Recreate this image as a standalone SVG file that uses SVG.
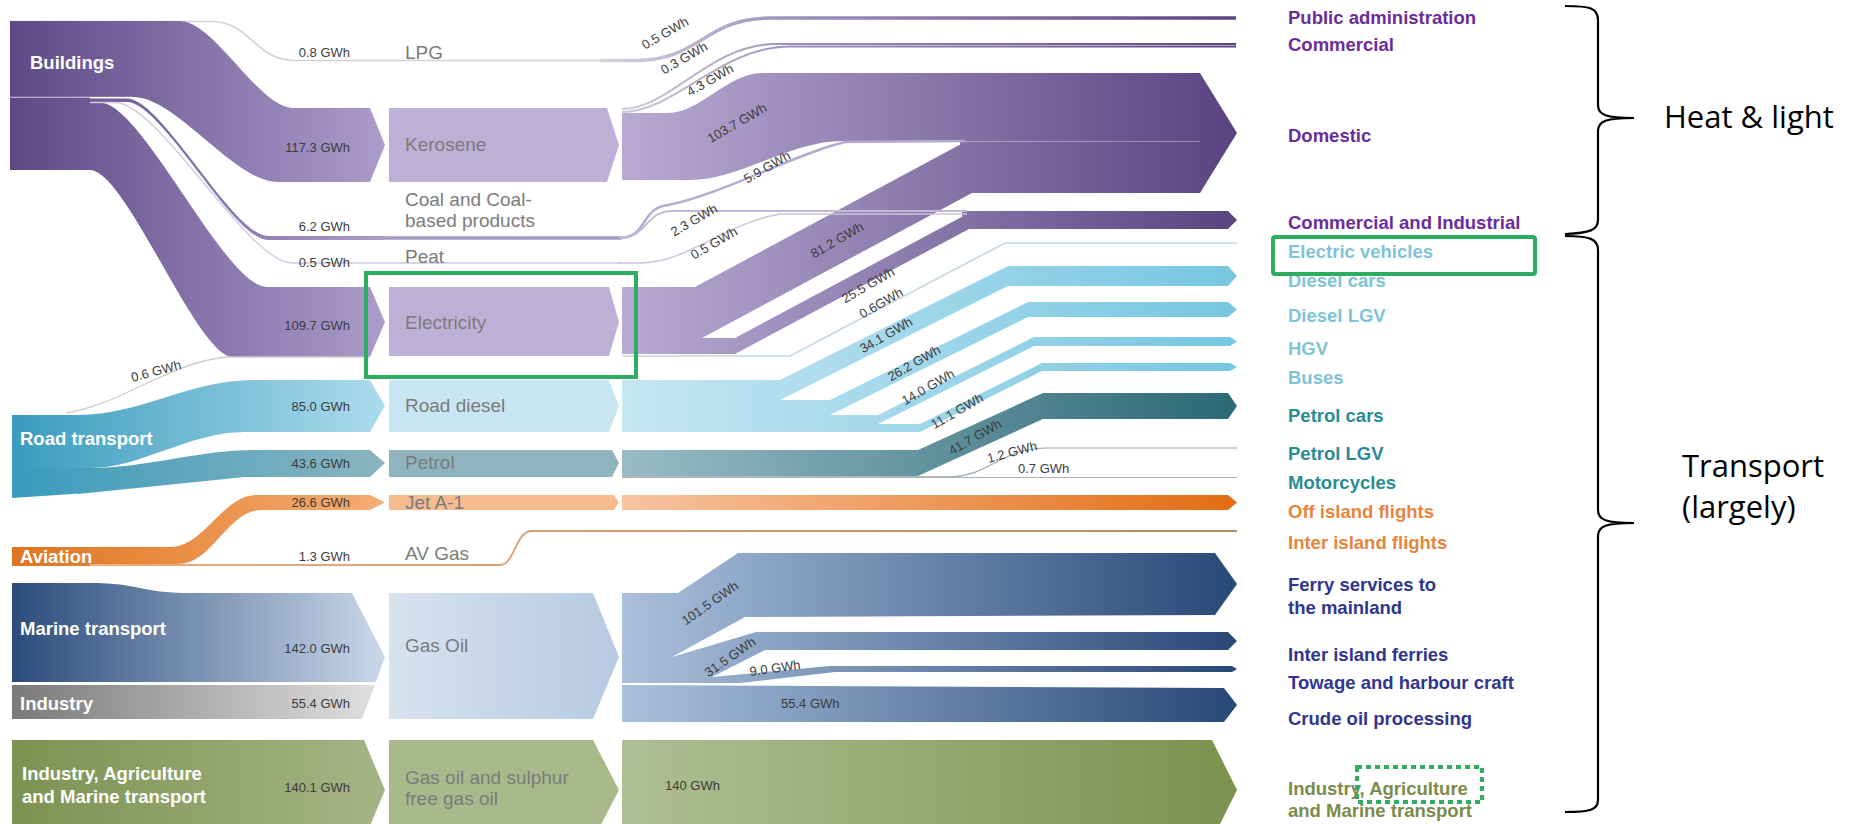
<svg xmlns="http://www.w3.org/2000/svg" width="1856" height="824" viewBox="0 0 1856 824">
<defs>
<linearGradient id="gBld" gradientUnits="userSpaceOnUse" x1="10" y1="0" x2="385" y2="0"><stop offset="0" stop-color="#5e4986"/><stop offset="1" stop-color="#ab9ccb"/></linearGradient>
<linearGradient id="gPur" gradientUnits="userSpaceOnUse" x1="622" y1="0" x2="1237" y2="0"><stop offset="0" stop-color="#b8aad3"/><stop offset="1" stop-color="#594480"/></linearGradient>
<linearGradient id="gPurLine" gradientUnits="userSpaceOnUse" x1="600" y1="0" x2="1237" y2="0"><stop offset="0" stop-color="#d6d2de"/><stop offset="0.3" stop-color="#9d90bd"/><stop offset="1" stop-color="#5a4680"/></linearGradient>
<linearGradient id="gRoad" gradientUnits="userSpaceOnUse" x1="12" y1="0" x2="385" y2="0"><stop offset="0" stop-color="#3a9bbd"/><stop offset="1" stop-color="#acdcec"/></linearGradient>
<linearGradient id="gPet" gradientUnits="userSpaceOnUse" x1="12" y1="0" x2="385" y2="0"><stop offset="0" stop-color="#3a9bbd"/><stop offset="1" stop-color="#8ab4c0"/></linearGradient>
<linearGradient id="gDsl" gradientUnits="userSpaceOnUse" x1="622" y1="0" x2="1237" y2="0"><stop offset="0" stop-color="#c6e6f2"/><stop offset="1" stop-color="#76c6e1"/></linearGradient>
<linearGradient id="gPetD" gradientUnits="userSpaceOnUse" x1="622" y1="0" x2="1237" y2="0"><stop offset="0" stop-color="#98bcc6"/><stop offset="1" stop-color="#2b6875"/></linearGradient>
<linearGradient id="gAv" gradientUnits="userSpaceOnUse" x1="12" y1="0" x2="385" y2="0"><stop offset="0" stop-color="#df7420"/><stop offset="1" stop-color="#f4ad72"/></linearGradient>
<linearGradient id="gJetD" gradientUnits="userSpaceOnUse" x1="622" y1="0" x2="1237" y2="0"><stop offset="0" stop-color="#f7c4a0"/><stop offset="1" stop-color="#e26c12"/></linearGradient>
<linearGradient id="gAvLine" gradientUnits="userSpaceOnUse" x1="12" y1="0" x2="1237" y2="0"><stop offset="0" stop-color="#f3b07a"/><stop offset="1" stop-color="#b08a62"/></linearGradient>
<linearGradient id="gMar" gradientUnits="userSpaceOnUse" x1="12" y1="0" x2="385" y2="0"><stop offset="0" stop-color="#2b4c7c"/><stop offset="1" stop-color="#cad8e9"/></linearGradient>
<linearGradient id="gInd" gradientUnits="userSpaceOnUse" x1="12" y1="0" x2="385" y2="0"><stop offset="0" stop-color="#7a7a7a"/><stop offset="1" stop-color="#e2e2e2"/></linearGradient>
<linearGradient id="gGasBox" gradientUnits="userSpaceOnUse" x1="389" y1="0" x2="619" y2="0"><stop offset="0" stop-color="#d7e2ef"/><stop offset="1" stop-color="#b6cae2"/></linearGradient>
<linearGradient id="gGasD" gradientUnits="userSpaceOnUse" x1="622" y1="0" x2="1237" y2="0"><stop offset="0" stop-color="#aac0dc"/><stop offset="1" stop-color="#284877"/></linearGradient>
<linearGradient id="gIam" gradientUnits="userSpaceOnUse" x1="12" y1="0" x2="385" y2="0"><stop offset="0" stop-color="#7c9251"/><stop offset="1" stop-color="#a6b485"/></linearGradient>
<linearGradient id="gIamD" gradientUnits="userSpaceOnUse" x1="622" y1="0" x2="1237" y2="0"><stop offset="0" stop-color="#b0be94"/><stop offset="1" stop-color="#7b914e"/></linearGradient>
</defs>
<style>
.src{font-family:"Liberation Sans",Arial,sans-serif;font-weight:bold;font-size:18.5px;fill:#ffffff;dominant-baseline:central}
.fuel{font-family:"Liberation Sans",Arial,sans-serif;font-size:19px;fill:#7b7b7b;dominant-baseline:central}
.v{font-family:"Liberation Sans",Arial,sans-serif;font-size:13px;fill:#3c3c3c;dominant-baseline:central}
.ve{text-anchor:end}
.vm{text-anchor:middle}
.out{font-family:"Liberation Sans",Arial,sans-serif;font-weight:bold;font-size:18.5px;dominant-baseline:central}
.op{fill:#6a2c9c}.ob{fill:#80c3d8}.ot{fill:#2a8c93}.oo{fill:#e8853c}.on{fill:#2f3590}.og{fill:#7b8b49}
.ann{font-family:"Open Sans","Noto Sans",sans-serif;font-size:31px;fill:#000000}
.brace{fill:none;stroke:#000000;stroke-width:2.2}
.hl{fill:none;stroke:#2eac5f;stroke-width:4}
.ln{fill:none}
</style>
<rect x="0" y="0" width="1856" height="824" fill="#ffffff"/>

<g id="connectors">
  <!-- Buildings flows -->
  <path class="ln" d="M10,21.5 L212,21.5 C250,21.5 255,60.5 295,60.5 L622,60.5" stroke="#d3d3d3" stroke-width="1.6"/>
  <path fill="url(#gBld)" d="M88,21 L180,21 C214,21 259,108 293,108 L370,108 L385,145 L370,182 L278,182 C234,182 177,97 133,97 L88,97 Z"/>
  <path fill="url(#gBld)" d="M88,98.5 L127,98.5 C162,98.5 233,236 268,236 L385,236 L385,240 L268,240 C233,240 162,102 127,102 L88,102 Z"/>
  <path fill="url(#gBld)" d="M88,102.5 L100,102.5 C142,102.5 225,287 267,287 L370,287 L385,322 L370,357 L233,357 C197,357 126,170 90,170 L88,170 Z"/>
  <path class="ln" d="M88,102.5 L115,102.5 C159,102.5 248,263 292,263 L622,263" stroke="#cfc8df" stroke-width="1.3"/>
  <path class="ln" d="M385,238 L622,238" stroke="#a598c4" stroke-width="3.5"/>
  <!-- Road transport flows -->
  <path class="ln" d="M66,413 C120,405 170,362 227,357 L370,357" stroke="#cccccc" stroke-width="1.3"/>
  <path fill="url(#gRoad)" d="M78,415 C140,415 190,380 253,380 L370,380 L385,406 L370,432 L245,432 C190,432 140,468 91,468 L78,468 Z"/>
  <path fill="url(#gPet)" d="M78,468 L91,468 C145,468 200,450 253,450 L370,450 L385,463 L370,477 L245,477 L78,494 Z"/>
  <!-- Aviation flows -->
  <path fill="url(#gAv)" d="M88,547 L170,547 C205,547 222,495 257,495 L370,495 L385,502.5 L370,510 L262,510 C227,510 213,564 178,564 L88,564 Z"/>
  <path class="ln" d="M88,565 L500,565 C515,565 515,531 532,531 L1237,531" stroke="url(#gAvLine)" stroke-width="1.8"/>
  <!-- Marine / Industry / IAM flows -->
  <path fill="url(#gMar)" d="M90,583 C140,583 140,593 190,593 L352,593 L385,657 L376,682 L90,682 Z"/>
  <path fill="url(#gInd)" d="M90,685 L375,685 L362,719 L90,719 Z"/>
  <path fill="url(#gIam)" d="M90,740 L364,740 L385,790 L364,840 L90,840 Z"/>

  <!-- Purple distribution -->
  <path class="ln" d="M600,60.5 L636,60.5 C700,60.5 705,18 770,18 L1236,18" stroke="url(#gPurLine)" stroke-width="3.5"/>
  <path class="ln" d="M622,109 C670,109 710,44 775,44 L1236,44" stroke="url(#gPurLine)" stroke-width="2"/>
  <path class="ln" d="M622,112 C675,112 720,46.5 790,46.5 L1236,46.5" stroke="url(#gPurLine)" stroke-width="2"/>
  <path fill="url(#gPur)" d="M622,113 L668,113 C700,113 728,73 762,73 L966,73 L966,141 L842,141 C790,141 740,180 690,180 L622,180 Z"/>
  <path fill="url(#gPur)" d="M960,73 L1200,73 L1237,133 L1200,193 L960,193 Z"/>
  <path fill="url(#gPur)" d="M622,287 L695,287 L963,143 L970,143 L970,193 L972,193 L702,338 L622,338 Z"/>
  <path class="ln" d="M842,141.5 L1200,141.5" stroke="#ffffff" stroke-opacity="0.35" stroke-width="1"/>
  <path fill="url(#gPur)" d="M622,338 L735,338 L969,213 L975,213 L975,229 L969,229 L735,354 L622,354 Z"/>
  <path fill="url(#gPur)" d="M962,211 L1228,211 L1237,220 L1228,229 L962,229 Z"/>
  <path class="ln" d="M619,238 C648,238 640,208 668,205 C720,195 800,152 845,142 L965,141" stroke="#b7aad2" stroke-width="2.5"/>
  <path class="ln" d="M619,238 C648,238 645,211 672,211 L967,211" stroke="#c2b8d8" stroke-width="1.8"/>
  <path class="ln" d="M619,263 L640,263 C690,262 720,225 780,214 L967,214" stroke="#cbc3dd" stroke-width="1.3"/>
  <path class="ln" d="M622,356 L790,356 L1005,243 L1237,243" stroke="#c2d8e2" stroke-width="1.6"/>

  <!-- Road diesel distribution -->
  <path fill="url(#gDsl)" d="M622,380 L780,380 L1008,266 L1228,266 L1237,276 L1228,286 L1008,286 L780,400 L622,400 Z"/>
  <path fill="url(#gDsl)" d="M622,400 L830,400 L1028,302 L1228,302 L1237,309.5 L1228,317 L1028,317 L830,415 L622,415 Z"/>
  <path fill="url(#gDsl)" d="M622,415 L878,415 L1034,337 L1230,337 L1237,341.5 L1230,346 L1034,346 L878,424 L622,424 Z"/>
  <path fill="url(#gDsl)" d="M622,424 L920,424 L1042,363 L1230,363 L1237,367 L1230,371 L1042,371 L920,432 L622,432 Z"/>

  <!-- Petrol distribution -->
  <path fill="url(#gPetD)" d="M622,450 L918,450 L1043,393 L1228,393 L1237,406 L1228,419 L1043,419 L918,476 L622,476 Z"/>
  <path class="ln" d="M622,476.8 L950,476.8 C990,476 1000,449 1045,448 L1237,448" stroke="#9aa7ad" stroke-width="1.2"/>
  <path class="ln" d="M622,477.5 L1237,477.5" stroke="#a9b2b6" stroke-width="1.1"/>

  <!-- Jet distribution -->
  <path fill="url(#gJetD)" d="M622,495 L1228,495 L1237,502.5 L1228,510 L622,510 Z"/>

  <!-- Gas oil distribution -->
  <path fill="url(#gGasD)" d="M622,593 L678,593 L738,553 L1215,553 L1237,584 L1215,615 L745,617 L672,657 L622,657 Z"/>
  <path fill="url(#gGasD)" d="M622,657 L672,657 L756,632 L1228,632 L1237,641 L1228,650 L765,650 L712,677 L622,677 Z"/>
  <path fill="url(#gGasD)" d="M622,677 L712,677 L830,666 L1232,666 L1237,669 L1232,672 L835,672 L740,683 L622,683 Z"/>
  <path fill="url(#gGasD)" d="M622,685 L1224,688 L1237,705 L1224,722 L622,722 Z"/>

  <!-- Gas oil and sulphur free gas oil distribution -->
  <path fill="url(#gIamD)" d="M622,740 L1212,740 L1237,790 L1212,840 L622,840 Z"/>

  <!-- flow value labels -->
  <text class="v ve" x="350" y="52">0.8 GWh</text>
  <text class="v ve" x="350" y="147">117.3 GWh</text>
  <text class="v ve" x="350" y="226">6.2 GWh</text>
  <text class="v ve" x="350" y="262">0.5 GWh</text>
  <text class="v ve" x="350" y="325">109.7 GWh</text>
  <text class="v vm" transform="translate(156 371) rotate(-15)">0.6 GWh</text>
  <text class="v ve" x="350" y="406">85.0 GWh</text>
  <text class="v ve" x="350" y="463">43.6 GWh</text>
  <text class="v ve" x="350" y="502">26.6 GWh</text>
  <text class="v ve" x="350" y="556">1.3 GWh</text>
  <text class="v ve" x="350" y="648">142.0 GWh</text>
  <text class="v ve" x="350" y="703">55.4 GWh</text>
  <text class="v ve" x="350" y="787">140.1 GWh</text>

  <text class="v vm" transform="translate(665 33) rotate(-30)">0.5 GWh</text>
  <text class="v vm" transform="translate(684 58) rotate(-30)">0.3 GWh</text>
  <text class="v vm" transform="translate(710 80) rotate(-30)">4.3 GWh</text>
  <text class="v vm" transform="translate(737 123) rotate(-30)">103.7 GWh</text>
  <text class="v vm" transform="translate(767 167) rotate(-30)">5.9 GWh</text>
  <text class="v vm" transform="translate(694 220) rotate(-30)">2.3 GWh</text>
  <text class="v vm" transform="translate(714 243) rotate(-30)">0.5 GWh</text>
  <text class="v vm" transform="translate(837 240) rotate(-30)">81.2 GWh</text>
  <text class="v vm" transform="translate(868 285) rotate(-30)">25.5 GWh</text>
  <text class="v vm" transform="translate(881 303) rotate(-30)">0.6GWh</text>
  <text class="v vm" transform="translate(886 335) rotate(-30)">34.1 GWh</text>
  <text class="v vm" transform="translate(914 363) rotate(-30)">26.2 GWh</text>
  <text class="v vm" transform="translate(928 387) rotate(-30)">14.0 GWh</text>
  <text class="v vm" transform="translate(957 411) rotate(-30)">11.1 GWh</text>
  <text class="v vm" transform="translate(975 437) rotate(-30)">41.7 GWh</text>
  <text class="v vm" transform="translate(1012 452) rotate(-15)">1.2 GWh</text>
  <text class="v" x="1018" y="468">0.7 GWh</text>
  <text class="v vm" transform="translate(710 603) rotate(-35)">101.5 GWh</text>
  <text class="v vm" transform="translate(730 657) rotate(-35)">31.5 GWh</text>
  <text class="v vm" transform="translate(775 668) rotate(-8)">9.0 GWh</text>
  <text class="v" x="781" y="703">55.4 GWh</text>
  <text class="v" x="665" y="785">140 GWh</text>
</g>

<!-- Source nodes -->
<g id="n-buildings">
  <rect x="10" y="21" width="80" height="149" fill="url(#gBld)"/>
  <path d="M10,97.3 L133,97.3" stroke="#ffffff" stroke-opacity="0.7" stroke-width="1.1"/>
  <text class="src" x="30" y="62">Buildings</text>
</g>
<g id="n-road-transport">
  <path d="M12,415 L80,415 L80,468 L12,468 Z" fill="url(#gRoad)"/>
  <path d="M12,468 L80,468 L80,493.6 L12,498 Z" fill="url(#gPet)"/>
  <text class="src" x="20" y="438">Road transport</text>
</g>
<g id="n-aviation">
  <rect x="12" y="547" width="78" height="19" fill="url(#gAv)"/>
  <text class="src" x="20" y="556">Aviation</text>
</g>
<g id="n-marine-transport">
  <rect x="12" y="583" width="80" height="99" fill="url(#gMar)"/>
  <text class="src" x="20" y="628">Marine transport</text>
</g>
<g id="n-industry">
  <rect x="12" y="685" width="80" height="34" fill="url(#gInd)"/>
  <text class="src" x="20" y="703">Industry</text>
</g>
<g id="n-iam-source">
  <rect x="12" y="740" width="80" height="100" fill="url(#gIam)"/>
  <text class="src" x="22" y="773">Industry, Agriculture</text>
  <text class="src" x="22" y="796">and Marine transport</text>
</g>

<!-- Fuel nodes -->
<g id="n-lpg"><text class="fuel" x="405" y="52">LPG</text></g>
<g id="n-kerosene">
  <path d="M389,108 L607,108 L619,145 L607,182 L389,182 Z" fill="#bdb0d7"/>
  <text class="fuel" x="405" y="144">Kerosene</text>
</g>
<g id="n-coal">
  <text class="fuel" x="405" y="199">Coal and Coal-</text>
  <text class="fuel" x="405" y="220">based products</text>
</g>
<g id="n-peat"><text class="fuel" x="405" y="256">Peat</text></g>
<g id="n-electricity">
  <path d="M389,287 L609,287 L619,322 L609,356 L389,356 Z" fill="#bdb0d7"/>
  <text class="fuel" x="405" y="322">Electricity</text>
</g>
<g id="n-road-diesel">
  <path d="M389,380 L609,380 L619,406 L609,432 L389,432 Z" fill="#c7e6f2"/>
  <text class="fuel" x="405" y="405">Road diesel</text>
</g>
<g id="n-petrol">
  <path d="M389,450 L612,450 L619,463 L612,477 L389,477 Z" fill="#8fb4bf"/>
  <text class="fuel" x="405" y="462">Petrol</text>
</g>
<g id="n-jet">
  <path d="M389,495 L614,495 L619,502.5 L614,510 L389,510 Z" fill="#f6bb8f"/>
  <text class="fuel" x="405" y="502">Jet A-1</text>
</g>
<g id="n-avgas"><text class="fuel" x="405" y="553">AV Gas</text></g>
<g id="n-gasoil">
  <path d="M389,593 L593,593 L619,657 L593,719 L389,719 Z" fill="url(#gGasBox)"/>
  <text class="fuel" x="405" y="645">Gas Oil</text>
</g>
<g id="n-gasoil-sf">
  <path d="M389,740 L593,740 L619,790 L593,840 L389,840 Z" fill="#aab98c"/>
  <text class="fuel" x="405" y="777">Gas oil and sulphur</text>
  <text class="fuel" x="405" y="798">free gas oil</text>
</g>

<!-- End-use nodes -->
<g id="n-public-admin"><text class="out op" x="1288" y="17">Public administration</text></g>
<g id="n-commercial"><text class="out op" x="1288" y="44">Commercial</text></g>
<g id="n-domestic"><text class="out op" x="1288" y="135">Domestic</text></g>
<g id="n-comm-ind"><text class="out op" x="1288" y="222">Commercial and Industrial</text></g>
<g id="n-ev"><text class="out ob" x="1288" y="251">Electric vehicles</text></g>
<g id="n-diesel-cars"><text class="out ob" x="1288" y="280">Diesel cars</text></g>
<g id="n-diesel-lgv"><text class="out ob" x="1288" y="315">Diesel LGV</text></g>
<g id="n-hgv"><text class="out ob" x="1288" y="348">HGV</text></g>
<g id="n-buses"><text class="out ob" x="1288" y="377">Buses</text></g>
<g id="n-petrol-cars"><text class="out ot" x="1288" y="415">Petrol cars</text></g>
<g id="n-petrol-lgv"><text class="out ot" x="1288" y="453">Petrol LGV</text></g>
<g id="n-motorcycles"><text class="out ot" x="1288" y="482">Motorcycles</text></g>
<g id="n-off-island"><text class="out oo" x="1288" y="511">Off island flights</text></g>
<g id="n-inter-island-flights"><text class="out oo" x="1288" y="542">Inter island flights</text></g>
<g id="n-ferry"><text class="out on" x="1288" y="584">Ferry services to</text><text class="out on" x="1288" y="607">the mainland</text></g>
<g id="n-inter-island-ferries"><text class="out on" x="1288" y="654">Inter island ferries</text></g>
<g id="n-towage"><text class="out on" x="1288" y="682">Towage and harbour craft</text></g>
<g id="n-crude"><text class="out on" x="1288" y="718">Crude oil processing</text></g>
<g id="n-iam-out"><text class="out og" x="1288" y="788">Industry, Agriculture</text><text class="out og" x="1288" y="810">and Marine transport</text></g>

<!-- Annotations -->
<g id="annotations">
  <rect class="hl" x="366" y="273" width="270" height="104"/>
  <rect class="hl" x="1273" y="237" width="262" height="37" rx="2"/>
  <rect class="hl" x="1357" y="767" width="125" height="35" stroke-dasharray="5 4"/>
  <path class="brace" d="M1565,6 C1590,6 1598,8 1598,20 L1598,105 C1598,115 1606,118 1634,118 C1606,118 1598,121 1598,131 L1598,220 C1598,230 1590,233 1565,234"/>
  <path class="brace" d="M1565,236 C1590,236 1598,239 1598,250 L1598,510 C1598,520 1606,523 1634,523 C1606,523 1598,526 1598,536 L1598,800 C1598,810 1590,812 1565,812"/>
  <text class="ann" x="1664" y="128">Heat &amp; light</text>
  <text class="ann" x="1682" y="477">Transport</text>
  <text class="ann" x="1682" y="518">(largely)</text>
</g>
</svg>
